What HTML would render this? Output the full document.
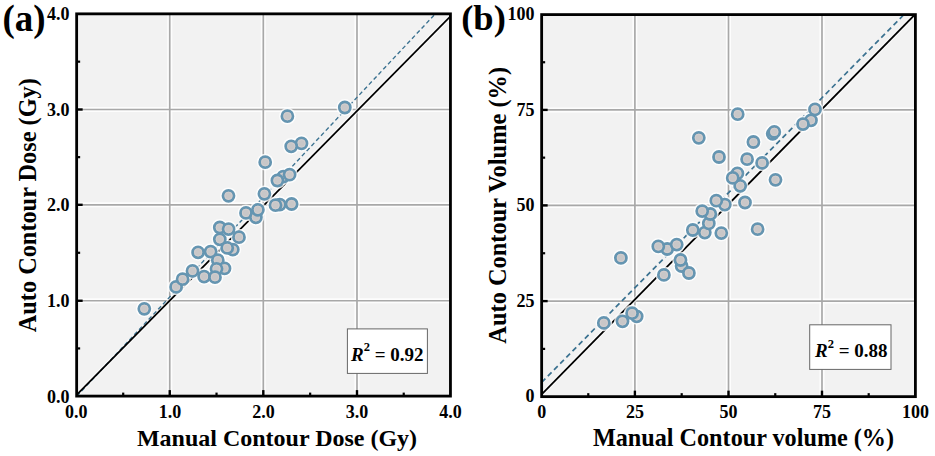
<!DOCTYPE html>
<html><head><meta charset="utf-8"><style>
html,body{margin:0;padding:0;background:#fff;width:935px;height:456px;overflow:hidden}
svg{display:block}
</style></head><body>
<svg width="935" height="456" viewBox="0 0 935 456">
<clipPath id="ca"><rect x="76.65" y="13.85" width="373.80" height="382.25"/></clipPath>
<rect x="76.65" y="13.85" width="373.80" height="382.25" fill="#f2f2f2"/>
<g clip-path="url(#ca)">
<line x1="169.75" y1="13.85" x2="169.75" y2="396.1" stroke="#fff" stroke-width="5" opacity="0.8"/>
<line x1="263.3" y1="13.85" x2="263.3" y2="396.1" stroke="#fff" stroke-width="5" opacity="0.8"/>
<line x1="357.0" y1="13.85" x2="357.0" y2="396.1" stroke="#fff" stroke-width="5" opacity="0.8"/>
<line x1="76.65" y1="300.75" x2="450.45" y2="300.75" stroke="#fff" stroke-width="5" opacity="0.8"/>
<line x1="76.65" y1="204.8" x2="450.45" y2="204.8" stroke="#fff" stroke-width="5" opacity="0.8"/>
<line x1="76.65" y1="109.5" x2="450.45" y2="109.5" stroke="#fff" stroke-width="5" opacity="0.8"/>
<line x1="169.75" y1="13.85" x2="169.75" y2="396.1" stroke="#a9a9a9" stroke-width="1.7"/>
<line x1="263.3" y1="13.85" x2="263.3" y2="396.1" stroke="#a9a9a9" stroke-width="1.7"/>
<line x1="357.0" y1="13.85" x2="357.0" y2="396.1" stroke="#a9a9a9" stroke-width="1.7"/>
<line x1="76.65" y1="300.75" x2="450.45" y2="300.75" stroke="#a9a9a9" stroke-width="1.7"/>
<line x1="76.65" y1="204.8" x2="450.45" y2="204.8" stroke="#a9a9a9" stroke-width="1.7"/>
<line x1="76.65" y1="109.5" x2="450.45" y2="109.5" stroke="#a9a9a9" stroke-width="1.7"/>
<line x1="76.65" y1="394.9" x2="452.85" y2="13.85" stroke="#fff" stroke-width="4.2" opacity="0.6"/>
<line x1="76.8" y1="396.1" x2="435.3" y2="13.85" stroke="#3a7190" stroke-width="1.35" stroke-dasharray="4.2 2.8"/>
<line x1="76.65" y1="394.9" x2="452.85" y2="13.85" stroke="#000" stroke-width="1.8"/>
<circle cx="144.3" cy="308.8" r="8.4" fill="#fff" opacity="0.8"/>
<circle cx="176.1" cy="286.9" r="8.4" fill="#fff" opacity="0.8"/>
<circle cx="182.6" cy="279.2" r="8.4" fill="#fff" opacity="0.8"/>
<circle cx="192.5" cy="270.9" r="8.4" fill="#fff" opacity="0.8"/>
<circle cx="198.1" cy="252.3" r="8.4" fill="#fff" opacity="0.8"/>
<circle cx="210.6" cy="251.6" r="8.4" fill="#fff" opacity="0.8"/>
<circle cx="217.8" cy="260.2" r="8.4" fill="#fff" opacity="0.8"/>
<circle cx="224.5" cy="268.4" r="8.4" fill="#fff" opacity="0.8"/>
<circle cx="216.5" cy="268.8" r="8.4" fill="#fff" opacity="0.8"/>
<circle cx="204.1" cy="276.6" r="8.4" fill="#fff" opacity="0.8"/>
<circle cx="215.0" cy="277.2" r="8.4" fill="#fff" opacity="0.8"/>
<circle cx="219.8" cy="239.3" r="8.4" fill="#fff" opacity="0.8"/>
<circle cx="219.8" cy="227.5" r="8.4" fill="#fff" opacity="0.8"/>
<circle cx="228.6" cy="229.1" r="8.4" fill="#fff" opacity="0.8"/>
<circle cx="232.8" cy="249.6" r="8.4" fill="#fff" opacity="0.8"/>
<circle cx="227.2" cy="247.9" r="8.4" fill="#fff" opacity="0.8"/>
<circle cx="239.0" cy="237.2" r="8.4" fill="#fff" opacity="0.8"/>
<circle cx="228.5" cy="195.8" r="8.4" fill="#fff" opacity="0.8"/>
<circle cx="246.0" cy="212.9" r="8.4" fill="#fff" opacity="0.8"/>
<circle cx="255.9" cy="217.3" r="8.4" fill="#fff" opacity="0.8"/>
<circle cx="257.9" cy="209.8" r="8.4" fill="#fff" opacity="0.8"/>
<circle cx="264.4" cy="193.8" r="8.4" fill="#fff" opacity="0.8"/>
<circle cx="265.2" cy="162.2" r="8.4" fill="#fff" opacity="0.8"/>
<circle cx="283.3" cy="176.6" r="8.4" fill="#fff" opacity="0.8"/>
<circle cx="277.4" cy="180.5" r="8.4" fill="#fff" opacity="0.8"/>
<circle cx="289.6" cy="174.7" r="8.4" fill="#fff" opacity="0.8"/>
<circle cx="279.8" cy="204.6" r="8.4" fill="#fff" opacity="0.8"/>
<circle cx="275.5" cy="205.2" r="8.4" fill="#fff" opacity="0.8"/>
<circle cx="291.6" cy="204.0" r="8.4" fill="#fff" opacity="0.8"/>
<circle cx="301.5" cy="143.4" r="8.4" fill="#fff" opacity="0.8"/>
<circle cx="291.2" cy="146.3" r="8.4" fill="#fff" opacity="0.8"/>
<circle cx="287.4" cy="116.2" r="8.4" fill="#fff" opacity="0.8"/>
<circle cx="344.8" cy="107.5" r="8.4" fill="#fff" opacity="0.8"/>
<circle cx="144.3" cy="308.8" r="5.5" fill="#c8c7c8" stroke="#6595b1" stroke-width="2.8"/>
<circle cx="144.3" cy="308.8" r="3.7" fill="none" stroke="#d6cfcf" stroke-width="0.9" opacity="0.8"/>
<circle cx="176.1" cy="286.9" r="5.5" fill="#c8c7c8" stroke="#6595b1" stroke-width="2.8"/>
<circle cx="176.1" cy="286.9" r="3.7" fill="none" stroke="#d6cfcf" stroke-width="0.9" opacity="0.8"/>
<circle cx="182.6" cy="279.2" r="5.5" fill="#c8c7c8" stroke="#6595b1" stroke-width="2.8"/>
<circle cx="182.6" cy="279.2" r="3.7" fill="none" stroke="#d6cfcf" stroke-width="0.9" opacity="0.8"/>
<circle cx="192.5" cy="270.9" r="5.5" fill="#c8c7c8" stroke="#6595b1" stroke-width="2.8"/>
<circle cx="192.5" cy="270.9" r="3.7" fill="none" stroke="#d6cfcf" stroke-width="0.9" opacity="0.8"/>
<circle cx="198.1" cy="252.3" r="5.5" fill="#c8c7c8" stroke="#6595b1" stroke-width="2.8"/>
<circle cx="198.1" cy="252.3" r="3.7" fill="none" stroke="#d6cfcf" stroke-width="0.9" opacity="0.8"/>
<circle cx="210.6" cy="251.6" r="5.5" fill="#c8c7c8" stroke="#6595b1" stroke-width="2.8"/>
<circle cx="210.6" cy="251.6" r="3.7" fill="none" stroke="#d6cfcf" stroke-width="0.9" opacity="0.8"/>
<circle cx="217.8" cy="260.2" r="5.5" fill="#c8c7c8" stroke="#6595b1" stroke-width="2.8"/>
<circle cx="217.8" cy="260.2" r="3.7" fill="none" stroke="#d6cfcf" stroke-width="0.9" opacity="0.8"/>
<circle cx="224.5" cy="268.4" r="5.5" fill="#c8c7c8" stroke="#6595b1" stroke-width="2.8"/>
<circle cx="224.5" cy="268.4" r="3.7" fill="none" stroke="#d6cfcf" stroke-width="0.9" opacity="0.8"/>
<circle cx="216.5" cy="268.8" r="5.5" fill="#c8c7c8" stroke="#6595b1" stroke-width="2.8"/>
<circle cx="216.5" cy="268.8" r="3.7" fill="none" stroke="#d6cfcf" stroke-width="0.9" opacity="0.8"/>
<circle cx="204.1" cy="276.6" r="5.5" fill="#c8c7c8" stroke="#6595b1" stroke-width="2.8"/>
<circle cx="204.1" cy="276.6" r="3.7" fill="none" stroke="#d6cfcf" stroke-width="0.9" opacity="0.8"/>
<circle cx="215.0" cy="277.2" r="5.5" fill="#c8c7c8" stroke="#6595b1" stroke-width="2.8"/>
<circle cx="215.0" cy="277.2" r="3.7" fill="none" stroke="#d6cfcf" stroke-width="0.9" opacity="0.8"/>
<circle cx="219.8" cy="239.3" r="5.5" fill="#c8c7c8" stroke="#6595b1" stroke-width="2.8"/>
<circle cx="219.8" cy="239.3" r="3.7" fill="none" stroke="#d6cfcf" stroke-width="0.9" opacity="0.8"/>
<circle cx="219.8" cy="227.5" r="5.5" fill="#c8c7c8" stroke="#6595b1" stroke-width="2.8"/>
<circle cx="219.8" cy="227.5" r="3.7" fill="none" stroke="#d6cfcf" stroke-width="0.9" opacity="0.8"/>
<circle cx="228.6" cy="229.1" r="5.5" fill="#c8c7c8" stroke="#6595b1" stroke-width="2.8"/>
<circle cx="228.6" cy="229.1" r="3.7" fill="none" stroke="#d6cfcf" stroke-width="0.9" opacity="0.8"/>
<circle cx="232.8" cy="249.6" r="5.5" fill="#c8c7c8" stroke="#6595b1" stroke-width="2.8"/>
<circle cx="232.8" cy="249.6" r="3.7" fill="none" stroke="#d6cfcf" stroke-width="0.9" opacity="0.8"/>
<circle cx="227.2" cy="247.9" r="5.5" fill="#c8c7c8" stroke="#6595b1" stroke-width="2.8"/>
<circle cx="227.2" cy="247.9" r="3.7" fill="none" stroke="#d6cfcf" stroke-width="0.9" opacity="0.8"/>
<circle cx="239.0" cy="237.2" r="5.5" fill="#c8c7c8" stroke="#6595b1" stroke-width="2.8"/>
<circle cx="239.0" cy="237.2" r="3.7" fill="none" stroke="#d6cfcf" stroke-width="0.9" opacity="0.8"/>
<circle cx="228.5" cy="195.8" r="5.5" fill="#c8c7c8" stroke="#6595b1" stroke-width="2.8"/>
<circle cx="228.5" cy="195.8" r="3.7" fill="none" stroke="#d6cfcf" stroke-width="0.9" opacity="0.8"/>
<circle cx="246.0" cy="212.9" r="5.5" fill="#c8c7c8" stroke="#6595b1" stroke-width="2.8"/>
<circle cx="246.0" cy="212.9" r="3.7" fill="none" stroke="#d6cfcf" stroke-width="0.9" opacity="0.8"/>
<circle cx="255.9" cy="217.3" r="5.5" fill="#c8c7c8" stroke="#6595b1" stroke-width="2.8"/>
<circle cx="255.9" cy="217.3" r="3.7" fill="none" stroke="#d6cfcf" stroke-width="0.9" opacity="0.8"/>
<circle cx="257.9" cy="209.8" r="5.5" fill="#c8c7c8" stroke="#6595b1" stroke-width="2.8"/>
<circle cx="257.9" cy="209.8" r="3.7" fill="none" stroke="#d6cfcf" stroke-width="0.9" opacity="0.8"/>
<circle cx="264.4" cy="193.8" r="5.5" fill="#c8c7c8" stroke="#6595b1" stroke-width="2.8"/>
<circle cx="264.4" cy="193.8" r="3.7" fill="none" stroke="#d6cfcf" stroke-width="0.9" opacity="0.8"/>
<circle cx="265.2" cy="162.2" r="5.5" fill="#c8c7c8" stroke="#6595b1" stroke-width="2.8"/>
<circle cx="265.2" cy="162.2" r="3.7" fill="none" stroke="#d6cfcf" stroke-width="0.9" opacity="0.8"/>
<circle cx="283.3" cy="176.6" r="5.5" fill="#c8c7c8" stroke="#6595b1" stroke-width="2.8"/>
<circle cx="283.3" cy="176.6" r="3.7" fill="none" stroke="#d6cfcf" stroke-width="0.9" opacity="0.8"/>
<circle cx="277.4" cy="180.5" r="5.5" fill="#c8c7c8" stroke="#6595b1" stroke-width="2.8"/>
<circle cx="277.4" cy="180.5" r="3.7" fill="none" stroke="#d6cfcf" stroke-width="0.9" opacity="0.8"/>
<circle cx="289.6" cy="174.7" r="5.5" fill="#c8c7c8" stroke="#6595b1" stroke-width="2.8"/>
<circle cx="289.6" cy="174.7" r="3.7" fill="none" stroke="#d6cfcf" stroke-width="0.9" opacity="0.8"/>
<circle cx="279.8" cy="204.6" r="5.5" fill="#c8c7c8" stroke="#6595b1" stroke-width="2.8"/>
<circle cx="279.8" cy="204.6" r="3.7" fill="none" stroke="#d6cfcf" stroke-width="0.9" opacity="0.8"/>
<circle cx="275.5" cy="205.2" r="5.5" fill="#c8c7c8" stroke="#6595b1" stroke-width="2.8"/>
<circle cx="275.5" cy="205.2" r="3.7" fill="none" stroke="#d6cfcf" stroke-width="0.9" opacity="0.8"/>
<circle cx="291.6" cy="204.0" r="5.5" fill="#c8c7c8" stroke="#6595b1" stroke-width="2.8"/>
<circle cx="291.6" cy="204.0" r="3.7" fill="none" stroke="#d6cfcf" stroke-width="0.9" opacity="0.8"/>
<circle cx="301.5" cy="143.4" r="5.5" fill="#c8c7c8" stroke="#6595b1" stroke-width="2.8"/>
<circle cx="301.5" cy="143.4" r="3.7" fill="none" stroke="#d6cfcf" stroke-width="0.9" opacity="0.8"/>
<circle cx="291.2" cy="146.3" r="5.5" fill="#c8c7c8" stroke="#6595b1" stroke-width="2.8"/>
<circle cx="291.2" cy="146.3" r="3.7" fill="none" stroke="#d6cfcf" stroke-width="0.9" opacity="0.8"/>
<circle cx="287.4" cy="116.2" r="5.5" fill="#c8c7c8" stroke="#6595b1" stroke-width="2.8"/>
<circle cx="287.4" cy="116.2" r="3.7" fill="none" stroke="#d6cfcf" stroke-width="0.9" opacity="0.8"/>
<circle cx="344.8" cy="107.5" r="5.5" fill="#c8c7c8" stroke="#6595b1" stroke-width="2.8"/>
<circle cx="344.8" cy="107.5" r="3.7" fill="none" stroke="#d6cfcf" stroke-width="0.9" opacity="0.8"/>
</g>
<line x1="169.75" y1="396.1" x2="169.75" y2="390.1" stroke="#000" stroke-width="2.4"/>
<line x1="263.3" y1="396.1" x2="263.3" y2="390.1" stroke="#000" stroke-width="2.4"/>
<line x1="357.0" y1="396.1" x2="357.0" y2="390.1" stroke="#000" stroke-width="2.4"/>
<line x1="76.65" y1="300.75" x2="82.65" y2="300.75" stroke="#000" stroke-width="2.4"/>
<line x1="76.65" y1="204.8" x2="82.65" y2="204.8" stroke="#000" stroke-width="2.4"/>
<line x1="76.65" y1="109.5" x2="82.65" y2="109.5" stroke="#000" stroke-width="2.4"/>
<line x1="123.20" y1="396.1" x2="123.20" y2="392.6" stroke="#000" stroke-width="2.2"/>
<line x1="216.53" y1="396.1" x2="216.53" y2="392.6" stroke="#000" stroke-width="2.2"/>
<line x1="310.15" y1="396.1" x2="310.15" y2="392.6" stroke="#000" stroke-width="2.2"/>
<line x1="403.73" y1="396.1" x2="403.73" y2="392.6" stroke="#000" stroke-width="2.2"/>
<line x1="76.65" y1="348.43" x2="80.15" y2="348.43" stroke="#000" stroke-width="2.2"/>
<line x1="76.65" y1="252.78" x2="80.15" y2="252.78" stroke="#000" stroke-width="2.2"/>
<line x1="76.65" y1="157.15" x2="80.15" y2="157.15" stroke="#000" stroke-width="2.2"/>
<line x1="76.65" y1="61.67" x2="80.15" y2="61.67" stroke="#000" stroke-width="2.2"/>
<rect x="76.65" y="13.85" width="373.80" height="382.25" fill="none" stroke="#000" stroke-width="2.8"/>
<clipPath id="cb"><rect x="541.65" y="14.6" width="373.75" height="382.05"/></clipPath>
<rect x="541.65" y="14.6" width="373.75" height="382.05" fill="#f2f2f2"/>
<g clip-path="url(#cb)">
<line x1="634.9" y1="14.6" x2="634.9" y2="396.65" stroke="#fff" stroke-width="5" opacity="0.8"/>
<line x1="728.5" y1="14.6" x2="728.5" y2="396.65" stroke="#fff" stroke-width="5" opacity="0.8"/>
<line x1="822.0" y1="14.6" x2="822.0" y2="396.65" stroke="#fff" stroke-width="5" opacity="0.8"/>
<line x1="541.65" y1="301.1" x2="915.4" y2="301.1" stroke="#fff" stroke-width="5" opacity="0.8"/>
<line x1="541.65" y1="205.4" x2="915.4" y2="205.4" stroke="#fff" stroke-width="5" opacity="0.8"/>
<line x1="541.65" y1="109.9" x2="915.4" y2="109.9" stroke="#fff" stroke-width="5" opacity="0.8"/>
<line x1="634.9" y1="14.6" x2="634.9" y2="396.65" stroke="#a9a9a9" stroke-width="1.7"/>
<line x1="728.5" y1="14.6" x2="728.5" y2="396.65" stroke="#a9a9a9" stroke-width="1.7"/>
<line x1="822.0" y1="14.6" x2="822.0" y2="396.65" stroke="#a9a9a9" stroke-width="1.7"/>
<line x1="541.65" y1="301.1" x2="915.4" y2="301.1" stroke="#a9a9a9" stroke-width="1.7"/>
<line x1="541.65" y1="205.4" x2="915.4" y2="205.4" stroke="#a9a9a9" stroke-width="1.7"/>
<line x1="541.65" y1="109.9" x2="915.4" y2="109.9" stroke="#a9a9a9" stroke-width="1.7"/>
<line x1="541.65" y1="394.3" x2="914.9" y2="14.6" stroke="#fff" stroke-width="4.2" opacity="0.6"/>
<line x1="541.65" y1="382.46" x2="903.9" y2="14.6" stroke="#3a7190" stroke-width="1.7" stroke-dasharray="5.3 3.5"/>
<line x1="541.65" y1="394.3" x2="914.9" y2="14.6" stroke="#000" stroke-width="1.8"/>
<circle cx="603.8" cy="322.9" r="8.4" fill="#fff" opacity="0.8"/>
<circle cx="622.5" cy="321.3" r="8.4" fill="#fff" opacity="0.8"/>
<circle cx="636.7" cy="316.3" r="8.4" fill="#fff" opacity="0.8"/>
<circle cx="632.1" cy="313.2" r="8.4" fill="#fff" opacity="0.8"/>
<circle cx="620.9" cy="257.9" r="8.4" fill="#fff" opacity="0.8"/>
<circle cx="663.9" cy="274.9" r="8.4" fill="#fff" opacity="0.8"/>
<circle cx="667.2" cy="249.0" r="8.4" fill="#fff" opacity="0.8"/>
<circle cx="658.3" cy="246.4" r="8.4" fill="#fff" opacity="0.8"/>
<circle cx="676.7" cy="244.6" r="8.4" fill="#fff" opacity="0.8"/>
<circle cx="681.6" cy="266.0" r="8.4" fill="#fff" opacity="0.8"/>
<circle cx="680.5" cy="260.0" r="8.4" fill="#fff" opacity="0.8"/>
<circle cx="688.9" cy="273.0" r="8.4" fill="#fff" opacity="0.8"/>
<circle cx="692.8" cy="230.0" r="8.4" fill="#fff" opacity="0.8"/>
<circle cx="704.8" cy="232.6" r="8.4" fill="#fff" opacity="0.8"/>
<circle cx="708.8" cy="223.4" r="8.4" fill="#fff" opacity="0.8"/>
<circle cx="710.3" cy="214.0" r="8.4" fill="#fff" opacity="0.8"/>
<circle cx="702.2" cy="211.1" r="8.4" fill="#fff" opacity="0.8"/>
<circle cx="721.3" cy="233.1" r="8.4" fill="#fff" opacity="0.8"/>
<circle cx="724.8" cy="204.6" r="8.4" fill="#fff" opacity="0.8"/>
<circle cx="716.3" cy="200.7" r="8.4" fill="#fff" opacity="0.8"/>
<circle cx="745.0" cy="202.5" r="8.4" fill="#fff" opacity="0.8"/>
<circle cx="740.2" cy="185.8" r="8.4" fill="#fff" opacity="0.8"/>
<circle cx="737.4" cy="173.4" r="8.4" fill="#fff" opacity="0.8"/>
<circle cx="732.7" cy="177.9" r="8.4" fill="#fff" opacity="0.8"/>
<circle cx="719.0" cy="157.0" r="8.4" fill="#fff" opacity="0.8"/>
<circle cx="747.1" cy="159.2" r="8.4" fill="#fff" opacity="0.8"/>
<circle cx="762.1" cy="162.9" r="8.4" fill="#fff" opacity="0.8"/>
<circle cx="775.5" cy="179.8" r="8.4" fill="#fff" opacity="0.8"/>
<circle cx="753.4" cy="142.0" r="8.4" fill="#fff" opacity="0.8"/>
<circle cx="772.7" cy="133.8" r="8.4" fill="#fff" opacity="0.8"/>
<circle cx="774.3" cy="131.9" r="8.4" fill="#fff" opacity="0.8"/>
<circle cx="698.8" cy="137.8" r="8.4" fill="#fff" opacity="0.8"/>
<circle cx="737.7" cy="114.2" r="8.4" fill="#fff" opacity="0.8"/>
<circle cx="811.0" cy="120.3" r="8.4" fill="#fff" opacity="0.8"/>
<circle cx="803.0" cy="124.1" r="8.4" fill="#fff" opacity="0.8"/>
<circle cx="815.0" cy="109.4" r="8.4" fill="#fff" opacity="0.8"/>
<circle cx="757.6" cy="229.2" r="8.4" fill="#fff" opacity="0.8"/>
<circle cx="603.8" cy="322.9" r="5.5" fill="#c8c7c8" stroke="#6595b1" stroke-width="2.8"/>
<circle cx="603.8" cy="322.9" r="3.7" fill="none" stroke="#d6cfcf" stroke-width="0.9" opacity="0.8"/>
<circle cx="622.5" cy="321.3" r="5.5" fill="#c8c7c8" stroke="#6595b1" stroke-width="2.8"/>
<circle cx="622.5" cy="321.3" r="3.7" fill="none" stroke="#d6cfcf" stroke-width="0.9" opacity="0.8"/>
<circle cx="636.7" cy="316.3" r="5.5" fill="#c8c7c8" stroke="#6595b1" stroke-width="2.8"/>
<circle cx="636.7" cy="316.3" r="3.7" fill="none" stroke="#d6cfcf" stroke-width="0.9" opacity="0.8"/>
<circle cx="632.1" cy="313.2" r="5.5" fill="#c8c7c8" stroke="#6595b1" stroke-width="2.8"/>
<circle cx="632.1" cy="313.2" r="3.7" fill="none" stroke="#d6cfcf" stroke-width="0.9" opacity="0.8"/>
<circle cx="620.9" cy="257.9" r="5.5" fill="#c8c7c8" stroke="#6595b1" stroke-width="2.8"/>
<circle cx="620.9" cy="257.9" r="3.7" fill="none" stroke="#d6cfcf" stroke-width="0.9" opacity="0.8"/>
<circle cx="663.9" cy="274.9" r="5.5" fill="#c8c7c8" stroke="#6595b1" stroke-width="2.8"/>
<circle cx="663.9" cy="274.9" r="3.7" fill="none" stroke="#d6cfcf" stroke-width="0.9" opacity="0.8"/>
<circle cx="667.2" cy="249.0" r="5.5" fill="#c8c7c8" stroke="#6595b1" stroke-width="2.8"/>
<circle cx="667.2" cy="249.0" r="3.7" fill="none" stroke="#d6cfcf" stroke-width="0.9" opacity="0.8"/>
<circle cx="658.3" cy="246.4" r="5.5" fill="#c8c7c8" stroke="#6595b1" stroke-width="2.8"/>
<circle cx="658.3" cy="246.4" r="3.7" fill="none" stroke="#d6cfcf" stroke-width="0.9" opacity="0.8"/>
<circle cx="676.7" cy="244.6" r="5.5" fill="#c8c7c8" stroke="#6595b1" stroke-width="2.8"/>
<circle cx="676.7" cy="244.6" r="3.7" fill="none" stroke="#d6cfcf" stroke-width="0.9" opacity="0.8"/>
<circle cx="681.6" cy="266.0" r="5.5" fill="#c8c7c8" stroke="#6595b1" stroke-width="2.8"/>
<circle cx="681.6" cy="266.0" r="3.7" fill="none" stroke="#d6cfcf" stroke-width="0.9" opacity="0.8"/>
<circle cx="680.5" cy="260.0" r="5.5" fill="#c8c7c8" stroke="#6595b1" stroke-width="2.8"/>
<circle cx="680.5" cy="260.0" r="3.7" fill="none" stroke="#d6cfcf" stroke-width="0.9" opacity="0.8"/>
<circle cx="688.9" cy="273.0" r="5.5" fill="#c8c7c8" stroke="#6595b1" stroke-width="2.8"/>
<circle cx="688.9" cy="273.0" r="3.7" fill="none" stroke="#d6cfcf" stroke-width="0.9" opacity="0.8"/>
<circle cx="692.8" cy="230.0" r="5.5" fill="#c8c7c8" stroke="#6595b1" stroke-width="2.8"/>
<circle cx="692.8" cy="230.0" r="3.7" fill="none" stroke="#d6cfcf" stroke-width="0.9" opacity="0.8"/>
<circle cx="704.8" cy="232.6" r="5.5" fill="#c8c7c8" stroke="#6595b1" stroke-width="2.8"/>
<circle cx="704.8" cy="232.6" r="3.7" fill="none" stroke="#d6cfcf" stroke-width="0.9" opacity="0.8"/>
<circle cx="708.8" cy="223.4" r="5.5" fill="#c8c7c8" stroke="#6595b1" stroke-width="2.8"/>
<circle cx="708.8" cy="223.4" r="3.7" fill="none" stroke="#d6cfcf" stroke-width="0.9" opacity="0.8"/>
<circle cx="710.3" cy="214.0" r="5.5" fill="#c8c7c8" stroke="#6595b1" stroke-width="2.8"/>
<circle cx="710.3" cy="214.0" r="3.7" fill="none" stroke="#d6cfcf" stroke-width="0.9" opacity="0.8"/>
<circle cx="702.2" cy="211.1" r="5.5" fill="#c8c7c8" stroke="#6595b1" stroke-width="2.8"/>
<circle cx="702.2" cy="211.1" r="3.7" fill="none" stroke="#d6cfcf" stroke-width="0.9" opacity="0.8"/>
<circle cx="721.3" cy="233.1" r="5.5" fill="#c8c7c8" stroke="#6595b1" stroke-width="2.8"/>
<circle cx="721.3" cy="233.1" r="3.7" fill="none" stroke="#d6cfcf" stroke-width="0.9" opacity="0.8"/>
<circle cx="724.8" cy="204.6" r="5.5" fill="#c8c7c8" stroke="#6595b1" stroke-width="2.8"/>
<circle cx="724.8" cy="204.6" r="3.7" fill="none" stroke="#d6cfcf" stroke-width="0.9" opacity="0.8"/>
<circle cx="716.3" cy="200.7" r="5.5" fill="#c8c7c8" stroke="#6595b1" stroke-width="2.8"/>
<circle cx="716.3" cy="200.7" r="3.7" fill="none" stroke="#d6cfcf" stroke-width="0.9" opacity="0.8"/>
<circle cx="745.0" cy="202.5" r="5.5" fill="#c8c7c8" stroke="#6595b1" stroke-width="2.8"/>
<circle cx="745.0" cy="202.5" r="3.7" fill="none" stroke="#d6cfcf" stroke-width="0.9" opacity="0.8"/>
<circle cx="740.2" cy="185.8" r="5.5" fill="#c8c7c8" stroke="#6595b1" stroke-width="2.8"/>
<circle cx="740.2" cy="185.8" r="3.7" fill="none" stroke="#d6cfcf" stroke-width="0.9" opacity="0.8"/>
<circle cx="737.4" cy="173.4" r="5.5" fill="#c8c7c8" stroke="#6595b1" stroke-width="2.8"/>
<circle cx="737.4" cy="173.4" r="3.7" fill="none" stroke="#d6cfcf" stroke-width="0.9" opacity="0.8"/>
<circle cx="732.7" cy="177.9" r="5.5" fill="#c8c7c8" stroke="#6595b1" stroke-width="2.8"/>
<circle cx="732.7" cy="177.9" r="3.7" fill="none" stroke="#d6cfcf" stroke-width="0.9" opacity="0.8"/>
<circle cx="719.0" cy="157.0" r="5.5" fill="#c8c7c8" stroke="#6595b1" stroke-width="2.8"/>
<circle cx="719.0" cy="157.0" r="3.7" fill="none" stroke="#d6cfcf" stroke-width="0.9" opacity="0.8"/>
<circle cx="747.1" cy="159.2" r="5.5" fill="#c8c7c8" stroke="#6595b1" stroke-width="2.8"/>
<circle cx="747.1" cy="159.2" r="3.7" fill="none" stroke="#d6cfcf" stroke-width="0.9" opacity="0.8"/>
<circle cx="762.1" cy="162.9" r="5.5" fill="#c8c7c8" stroke="#6595b1" stroke-width="2.8"/>
<circle cx="762.1" cy="162.9" r="3.7" fill="none" stroke="#d6cfcf" stroke-width="0.9" opacity="0.8"/>
<circle cx="775.5" cy="179.8" r="5.5" fill="#c8c7c8" stroke="#6595b1" stroke-width="2.8"/>
<circle cx="775.5" cy="179.8" r="3.7" fill="none" stroke="#d6cfcf" stroke-width="0.9" opacity="0.8"/>
<circle cx="753.4" cy="142.0" r="5.5" fill="#c8c7c8" stroke="#6595b1" stroke-width="2.8"/>
<circle cx="753.4" cy="142.0" r="3.7" fill="none" stroke="#d6cfcf" stroke-width="0.9" opacity="0.8"/>
<circle cx="772.7" cy="133.8" r="5.5" fill="#c8c7c8" stroke="#6595b1" stroke-width="2.8"/>
<circle cx="772.7" cy="133.8" r="3.7" fill="none" stroke="#d6cfcf" stroke-width="0.9" opacity="0.8"/>
<circle cx="774.3" cy="131.9" r="5.5" fill="#c8c7c8" stroke="#6595b1" stroke-width="2.8"/>
<circle cx="774.3" cy="131.9" r="3.7" fill="none" stroke="#d6cfcf" stroke-width="0.9" opacity="0.8"/>
<circle cx="698.8" cy="137.8" r="5.5" fill="#c8c7c8" stroke="#6595b1" stroke-width="2.8"/>
<circle cx="698.8" cy="137.8" r="3.7" fill="none" stroke="#d6cfcf" stroke-width="0.9" opacity="0.8"/>
<circle cx="737.7" cy="114.2" r="5.5" fill="#c8c7c8" stroke="#6595b1" stroke-width="2.8"/>
<circle cx="737.7" cy="114.2" r="3.7" fill="none" stroke="#d6cfcf" stroke-width="0.9" opacity="0.8"/>
<circle cx="811.0" cy="120.3" r="5.5" fill="#c8c7c8" stroke="#6595b1" stroke-width="2.8"/>
<circle cx="811.0" cy="120.3" r="3.7" fill="none" stroke="#d6cfcf" stroke-width="0.9" opacity="0.8"/>
<circle cx="803.0" cy="124.1" r="5.5" fill="#c8c7c8" stroke="#6595b1" stroke-width="2.8"/>
<circle cx="803.0" cy="124.1" r="3.7" fill="none" stroke="#d6cfcf" stroke-width="0.9" opacity="0.8"/>
<circle cx="815.0" cy="109.4" r="5.5" fill="#c8c7c8" stroke="#6595b1" stroke-width="2.8"/>
<circle cx="815.0" cy="109.4" r="3.7" fill="none" stroke="#d6cfcf" stroke-width="0.9" opacity="0.8"/>
<circle cx="757.6" cy="229.2" r="5.5" fill="#c8c7c8" stroke="#6595b1" stroke-width="2.8"/>
<circle cx="757.6" cy="229.2" r="3.7" fill="none" stroke="#d6cfcf" stroke-width="0.9" opacity="0.8"/>
</g>
<line x1="634.9" y1="396.65" x2="634.9" y2="390.65" stroke="#000" stroke-width="2.4"/>
<line x1="728.5" y1="396.65" x2="728.5" y2="390.65" stroke="#000" stroke-width="2.4"/>
<line x1="822.0" y1="396.65" x2="822.0" y2="390.65" stroke="#000" stroke-width="2.4"/>
<line x1="541.65" y1="301.1" x2="547.65" y2="301.1" stroke="#000" stroke-width="2.4"/>
<line x1="541.65" y1="205.4" x2="547.65" y2="205.4" stroke="#000" stroke-width="2.4"/>
<line x1="541.65" y1="109.9" x2="547.65" y2="109.9" stroke="#000" stroke-width="2.4"/>
<line x1="588.27" y1="396.65" x2="588.27" y2="393.15" stroke="#000" stroke-width="2.2"/>
<line x1="681.70" y1="396.65" x2="681.70" y2="393.15" stroke="#000" stroke-width="2.2"/>
<line x1="775.25" y1="396.65" x2="775.25" y2="393.15" stroke="#000" stroke-width="2.2"/>
<line x1="868.70" y1="396.65" x2="868.70" y2="393.15" stroke="#000" stroke-width="2.2"/>
<line x1="541.65" y1="348.88" x2="545.15" y2="348.88" stroke="#000" stroke-width="2.2"/>
<line x1="541.65" y1="253.25" x2="545.15" y2="253.25" stroke="#000" stroke-width="2.2"/>
<line x1="541.65" y1="157.65" x2="545.15" y2="157.65" stroke="#000" stroke-width="2.2"/>
<line x1="541.65" y1="62.25" x2="545.15" y2="62.25" stroke="#000" stroke-width="2.2"/>
<rect x="541.65" y="14.6" width="373.75" height="382.05" fill="none" stroke="#000" stroke-width="2.8"/>
<text x="76.30" y="417.5" font-family="Liberation Serif" font-weight="bold" font-size="18" text-anchor="middle">0.0</text>
<text x="69.5" y="402.60" font-family="Liberation Serif" font-weight="bold" font-size="18" text-anchor="end">0.0</text>
<text x="169.88" y="417.5" font-family="Liberation Serif" font-weight="bold" font-size="18" text-anchor="middle">1.0</text>
<text x="69.5" y="307.00" font-family="Liberation Serif" font-weight="bold" font-size="18" text-anchor="end">1.0</text>
<text x="263.45" y="417.5" font-family="Liberation Serif" font-weight="bold" font-size="18" text-anchor="middle">2.0</text>
<text x="69.5" y="211.40" font-family="Liberation Serif" font-weight="bold" font-size="18" text-anchor="end">2.0</text>
<text x="357.03" y="417.5" font-family="Liberation Serif" font-weight="bold" font-size="18" text-anchor="middle">3.0</text>
<text x="69.5" y="115.80" font-family="Liberation Serif" font-weight="bold" font-size="18" text-anchor="end">3.0</text>
<text x="450.60" y="417.5" font-family="Liberation Serif" font-weight="bold" font-size="18" text-anchor="middle">4.0</text>
<text x="69.5" y="20.20" font-family="Liberation Serif" font-weight="bold" font-size="18" text-anchor="end">4.0</text>
<text x="541.70" y="418" font-family="Liberation Serif" font-weight="bold" font-size="18" text-anchor="middle">0</text>
<text x="534.5" y="402.20" font-family="Liberation Serif" font-weight="bold" font-size="18" text-anchor="end">0</text>
<text x="635.12" y="418" font-family="Liberation Serif" font-weight="bold" font-size="18" text-anchor="middle">25</text>
<text x="534.5" y="306.70" font-family="Liberation Serif" font-weight="bold" font-size="18" text-anchor="end">25</text>
<text x="728.55" y="418" font-family="Liberation Serif" font-weight="bold" font-size="18" text-anchor="middle">50</text>
<text x="534.5" y="211.20" font-family="Liberation Serif" font-weight="bold" font-size="18" text-anchor="end">50</text>
<text x="821.98" y="418" font-family="Liberation Serif" font-weight="bold" font-size="18" text-anchor="middle">75</text>
<text x="534.5" y="115.70" font-family="Liberation Serif" font-weight="bold" font-size="18" text-anchor="end">75</text>
<text x="915.40" y="418" font-family="Liberation Serif" font-weight="bold" font-size="18" text-anchor="middle">100</text>
<text x="534.5" y="20.20" font-family="Liberation Serif" font-weight="bold" font-size="18" text-anchor="end">100</text>
<text x="277" y="446" font-family="Liberation Serif" font-weight="bold" font-size="24" text-anchor="middle">Manual Contour Dose (Gy)</text>
<text x="743.5" y="446" font-family="Liberation Serif" font-weight="bold" font-size="24.2" text-anchor="middle">Manual Contour volume (%)</text>
<text transform="translate(35.5,205.2) rotate(-90)" font-family="Liberation Serif" font-weight="bold" font-size="24.3" text-anchor="middle">Auto Contour Dose (Gy)</text>
<text transform="translate(506,205.3) rotate(-90)" font-family="Liberation Serif" font-weight="bold" font-size="24.4" text-anchor="middle">Auto Contour Volume (%)</text>
<text x="2.4" y="31" font-family="Liberation Serif" font-weight="bold" font-size="37">(a)</text>
<text x="461.2" y="30.3" font-family="Liberation Serif" font-weight="bold" font-size="36.5">(b)</text>
<rect x="347.4" y="328.9" width="80" height="44.5" fill="#fff" stroke="#666" stroke-width="1"/>
<text x="351" y="360.7" font-family="Liberation Serif" font-weight="bold" font-size="19"><tspan font-style="italic">R</tspan><tspan font-size="12.5" dy="-9.3">2</tspan><tspan dy="9.3"> = 0.92</tspan></text>
<rect x="809.7" y="324.8" width="81.3" height="44.6" fill="#fff" stroke="#666" stroke-width="1"/>
<text x="815" y="356.8" font-family="Liberation Serif" font-weight="bold" font-size="19"><tspan font-style="italic">R</tspan><tspan font-size="12.5" dy="-9.3">2</tspan><tspan dy="9.3"> = 0.88</tspan></text>
</svg>
</body></html>
